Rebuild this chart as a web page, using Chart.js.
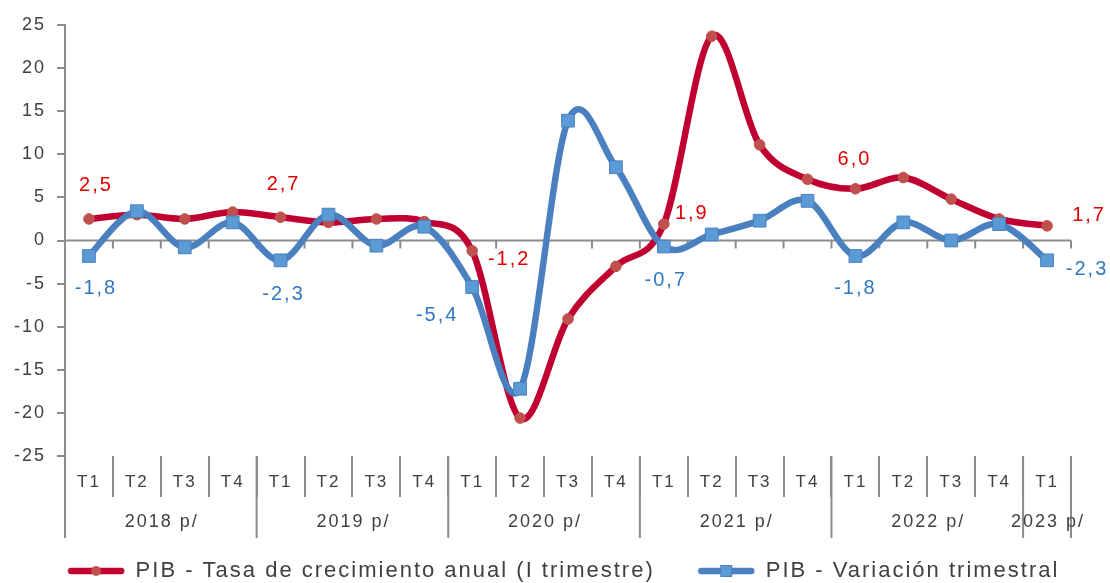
<!DOCTYPE html>
<html><head><meta charset="utf-8">
<script src="https://cdn.jsdelivr.net/npm/chart.js@4/dist/chart.umd.min.js"></script>
<style>html,body{margin:0;padding:0;background:#fff;}#wrap{width:1110px;height:583px;}</style>
</head><body><div id="wrap"><canvas id="c" width="1110" height="583"></canvas></div>
<script>
// ---- data ----
const quarters = ['T1','T2','T3','T4','T1','T2','T3','T4','T1','T2','T3','T4','T1','T2','T3','T4','T1','T2','T3','T4','T1'];
const years = ['2018 p/','2019 p/','2020 p/','2021 p/','2022 p/','2023 p/'];
const quartersPerYear = [4,4,4,4,4,1];
const annualGrowth = [2.5, 3.0, 2.5, 3.3, 2.7, 2.1, 2.5, 2.2, -1.2, -20.6, -9.1, -3.0, 1.9, 23.7, 11.1, 7.1, 6.0, 7.3, 4.8, 2.5, 1.7];
const quarterlyChange = [-1.8, 3.4, -0.8, 2.1, -2.3, 3.0, -0.6, 1.6, -5.4, -17.2, 13.9, 8.5, -0.7, 0.7, 2.3, 4.6, -1.8, 2.1, 0.0, 1.9, -2.3];
const annualLabelIdx = [0, 4, 8, 12, 16, 20];
const quarterlyLabelIdx = [0, 4, 8, 12, 16, 20];
const seriesNames = ['PIB - Tasa de crecimiento anual (I trimestre)', 'PIB - Variación trimestral'];
const yMin = -25, yMax = 25, yStep = 5;

// ---- styles ----
const FONT = "'Liberation Sans', Arial, sans-serif";
const GREY = '#8c8c8c';
const TXT = '#404040';
const RED_LINE = '#c00030', RED_MARK = '#c0504d', RED_TXT = '#e00000';
const BLUE_LINE = '#4a80c0', BLUE_MARK = '#5b9bd5', BLUE_TXT = '#2f78c4';
const SPACING = '2px';

function fmt(v){ return v.toFixed(1).replace('.', ','); }

function legendIcon(lineColor, markColor, shape){
  const c = document.createElement('canvas'); c.width = 58; c.height = 16;
  const g = c.getContext('2d');
  g.strokeStyle = lineColor; g.lineWidth = 6.5; g.lineCap = 'round';
  g.beginPath(); g.moveTo(4, 8); g.lineTo(54, 8); g.stroke();
  g.fillStyle = markColor;
  if (shape === 'circle') { g.beginPath(); g.arc(29, 8, 5, 0, Math.PI * 2); g.fill(); }
  else { g.fillRect(23, 2, 12, 12); g.strokeStyle = lineColor; g.lineWidth = 1; g.strokeRect(23.5, 2.5, 11, 11); }
  return c;
}
const icons = [legendIcon(RED_LINE, RED_MARK, 'circle'), legendIcon(BLUE_LINE, BLUE_MARK, 'rect')];

const decor = {
  id: 'decor',
  beforeLayout(chart){ chart.ctx.letterSpacing = SPACING; },
  beforeDraw(chart){ chart.ctx.letterSpacing = SPACING; },
  // spreadsheet-style smoothing: uniform Catmull-Rom handles (1/6 of neighbour span)
  beforeDatasetDraw(chart, args){
    const meta = args.meta;
    const line = meta.dataset;
    line.updateControlPoints(chart.chartArea, 'x');
    const pts = meta.data;
    for (let i = 0; i < pts.length; i++) {
      const p = pts[i];
      const prev = pts[Math.max(i - 1, 0)], next = pts[Math.min(i + 1, pts.length - 1)];
      const dx = (next.x - prev.x) / 6, dy = (next.y - prev.y) / 6;
      p.cp1x = p.x - dx; p.cp1y = p.y - dy;
      p.cp2x = p.x + dx; p.cp2y = p.y + dy;
    }
    line._path = undefined;
  },
  beforeDatasetsDraw(chart){
    const {ctx, chartArea, scales} = chart;
    const x = scales.x, y = scales.y;
    const y0 = y.getPixelForValue(0);
    ctx.save();
    ctx.letterSpacing = SPACING;
    ctx.strokeStyle = GREY; ctx.lineWidth = 2;
    ctx.beginPath();
    ctx.moveTo(chartArea.left, y0); ctx.lineTo(chartArea.right, y0);
    for (let k = 1; k <= quarters.length; k++) {
      const px = x.getPixelForValue(k - 0.5);
      ctx.moveTo(px, y0); ctx.lineTo(px, y0 + 8);
    }
    let k = 0;
    const bounds = [0];
    quartersPerYear.forEach(n => { k += n; bounds.push(k); });
    bounds.forEach(b => {
      const px = x.getPixelForValue(b - 0.5);
      ctx.moveTo(px, chartArea.bottom); ctx.lineTo(px, chartArea.bottom + 82);
    });
    ctx.stroke();
    ctx.fillStyle = TXT; ctx.font = '18px ' + FONT;
    ctx.textAlign = 'center'; ctx.textBaseline = 'middle';
    years.forEach((yr, i) => {
      const cx = x.getPixelForValue((bounds[i] + bounds[i + 1]) / 2 - 0.5);
      ctx.fillText(yr, cx + 1, chartArea.bottom + 66);
    });
    ctx.restore();
  },
  afterDatasetsDraw(chart, args, opts){
    const ctx = chart.ctx;
    ctx.save();
    ctx.letterSpacing = SPACING;
    ctx.font = '20px ' + FONT;
    ctx.textAlign = 'center'; ctx.textBaseline = 'middle';
    opts.sets.forEach((s, di) => {
      const meta = chart.getDatasetMeta(di);
      const data = chart.data.datasets[di].data;
      ctx.fillStyle = s.color;
      s.indices.forEach((idx, j) => {
        const pt = meta.data[idx];
        const off = s.offsets[j];
        ctx.fillText(fmt(data[idx]), pt.x + off[0], pt.y + off[1]);
      });
    });
    ctx.restore();
  }
};

const LEG_PAD = 43;
new Chart(document.getElementById('c'), {
  type: 'line',
  data: {
    labels: quarters,
    datasets: [
      { label: seriesNames[0], data: annualGrowth, order: 1, yAxisID: 'y',
        borderColor: RED_LINE, borderWidth: 6.5, tension: 0.4, fill: false,
        borderCapStyle: 'round', borderJoinStyle: 'round',
        pointStyle: 'circle', pointRadius: 5.3, pointBackgroundColor: RED_MARK, pointBorderColor: RED_MARK, pointBorderWidth: 1 },
      { label: seriesNames[1], data: quarterlyChange, order: 0, yAxisID: 'y',
        borderColor: BLUE_LINE, borderWidth: 6.5, tension: 0.4, fill: false,
        borderCapStyle: 'round', borderJoinStyle: 'round',
        pointStyle: 'rect', pointRadius: 9, pointBackgroundColor: BLUE_MARK, pointBorderColor: BLUE_LINE, pointBorderWidth: 1 }
    ]
  },
  options: {
    responsive: false, animation: false, devicePixelRatio: 1,
    layout: { padding: { top: 25, left: 0, right: -17, bottom: -9 } },
    plugins: {
      tooltip: { enabled: false },
      legend: {
        position: 'bottom',
        labels: {
          color: TXT, font: { family: FONT, size: 22 }, padding: LEG_PAD,
          usePointStyle: true, pointStyleWidth: 57, boxHeight: 16,
          sort: (a, b) => a.datasetIndex - b.datasetIndex,
          generateLabels(chart){
            const items = Chart.defaults.plugins.legend.labels.generateLabels(chart);
            items.forEach(it => { it.pointStyle = icons[it.datasetIndex]; });
            return items;
          }
        }
      },
      decor: {
        sets: [
          { indices: annualLabelIdx, color: RED_TXT,
            offsets: [[7,-33],[3,-33],[37,9],[28,-11],[-1,-29],[42,-10]] },
          { indices: quarterlyLabelIdx, color: BLUE_TXT,
            offsets: [[7,32],[3,34],[-35,28],[2,34],[0,32],[40,9]] }
        ]
      }
    },
    scales: {
      x: {
        offset: true,
        grid: { offset: true, drawOnChartArea: false, drawTicks: true, tickLength: 41, color: GREY, lineWidth: 2 },
        border: { display: false },
        ticks: { color: TXT, font: { family: FONT, size: 17 }, padding: -25, maxRotation: 0, autoSkip: false },
        afterFit(scale){ scale.height = 104 - LEG_PAD; }
      },
      y: {
        min: yMin, max: yMax,
        grid: { drawOnChartArea: false, drawTicks: true, tickLength: 8, color: GREY, lineWidth: 2 },
        border: { display: true, color: GREY, width: 2 },
        ticks: { stepSize: yStep, color: TXT, font: { family: FONT, size: 18 }, padding: 11 },
        afterFit(scale){ scale.width = 65; }
      },
      yRight: {
        position: 'right', min: yMin, max: yMax,
        grid: { display: false }, border: { display: false }, ticks: { display: false },
        afterFit(scale){ scale.width = 56; }
      }
    }
  },
  plugins: [decor]
});
</script></body></html>
